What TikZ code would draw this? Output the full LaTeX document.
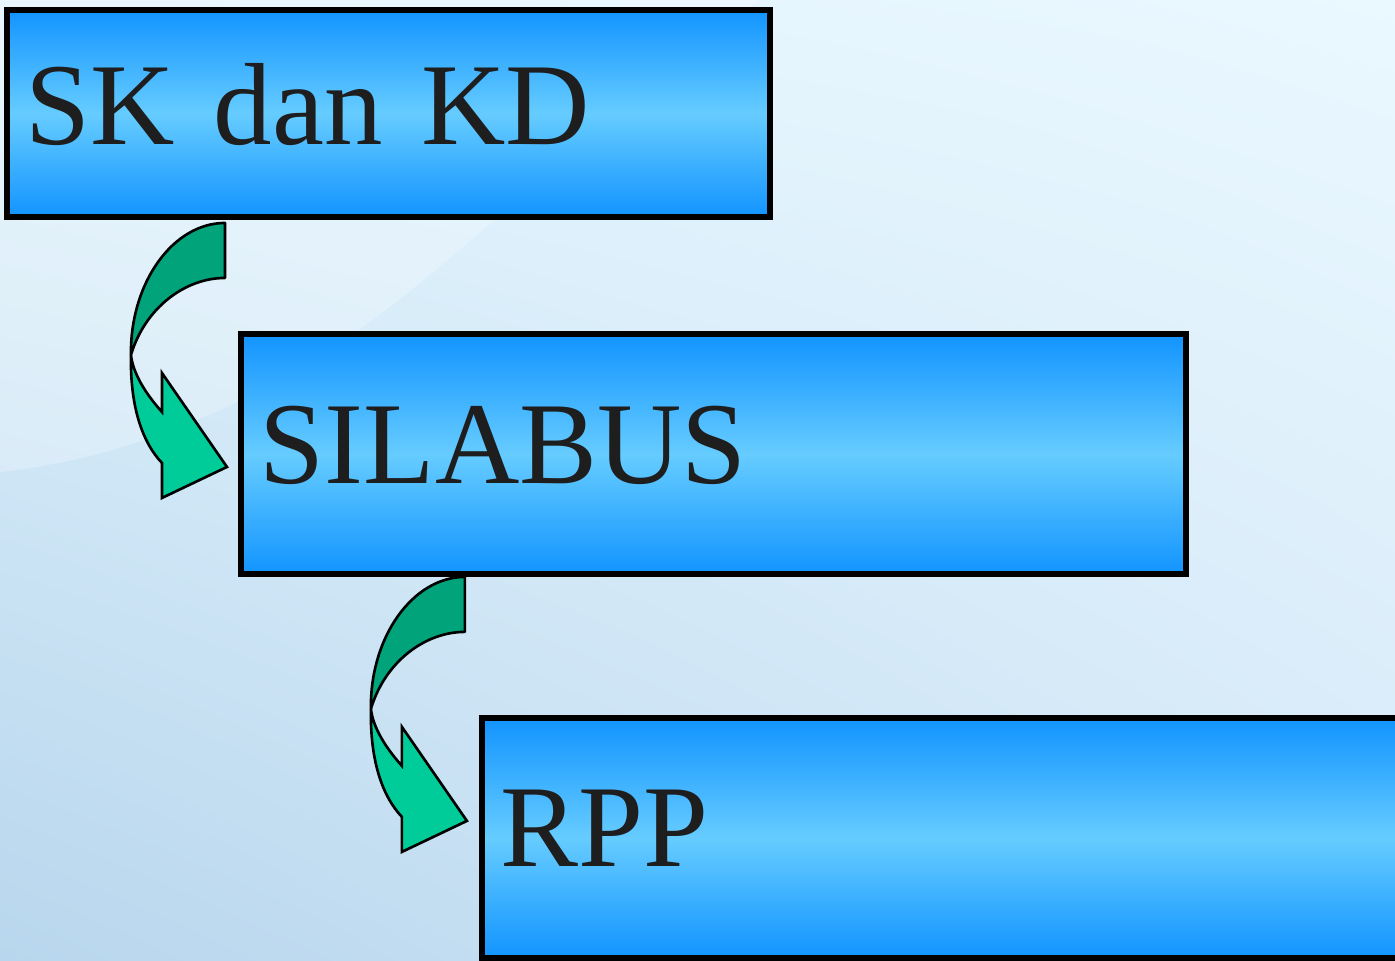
\documentclass[tikz,border=0pt]{standalone}
\usepackage{fontspec}
\setmainfont[WordSpace=0.76]{Liberation Serif}
\usepackage{tikz}
\usepackage{xcolor}
\usetikzlibrary{positioning}
\usetikzlibrary{shadings}
\definecolor{boxdark}{RGB}{18,148,255}
\definecolor{boxlight}{RGB}{102,204,255}
\definecolor{arrowdark}{RGB}{0,163,122}
\definecolor{arrowlight}{RGB}{0,204,153}
\definecolor{textgray}{RGB}{30,30,30}
\definecolor{bgul}{RGB}{226,244,253}
\definecolor{bgur}{RGB}{234,248,255}
\definecolor{bgll}{RGB}{184,214,237}
\definecolor{bglr}{RGB}{214,233,248}
\tikzstyle{level} = [rectangle, draw=black, line width=3.4pt, outer sep=0pt, top color=boxdark, bottom color=boxdark, middle color=boxlight, text=textgray, font=\fontsize{66.5}{80}\selectfont, align=left, inner xsep=0.37cm, text depth=0.4cm, anchor=north west]
\tikzstyle{arrowback} = [draw=black, line width=1.5pt, line join=round, fill=arrowdark]
\tikzstyle{arrowfront} = [draw=black, line width=1.5pt, line join=miter, fill=arrowlight]

% curved arrow, top right corner at #1
\newcommand{\bendarrow}[1]{%
    \begin{scope}[shift={(#1)}]
        \filldraw[arrowback] (0,0) .. controls (-52,0) and (-95,60) .. (-94,132) .. controls (-80,85) and (-40,55) .. (0,55) -- cycle;
        \filldraw[arrowfront] (-94,132) .. controls (-95,185) and (-82,220) .. (-63,240) -- (-63,275) -- (2,244) -- (-63,150) -- (-63,189) .. controls (-80,170) and (-92,150) .. (-94,132) -- cycle;
    \end{scope}}

\begin{document}
\begin{tikzpicture}[x=0.02cm, y=-0.02cm]
        \clip (0,0) rectangle (1395,960);
        \shade[upper left=bgul, upper right=bgur, lower left=bgll, lower right=bglr] (0,0) rectangle (1395,960);
        \fill[white, opacity=0.25] (0,0) -- (0,472) .. controls (110,460) and (220,420) .. (330,350) .. controls (480,250) and (620,90) .. (760,0) -- cycle;

        \node (skkd) [level, text width=14.52cm, minimum height=4.14cm] at (7,10) {SK dan KD};
        \node (silabus) [level, text width=18.15cm, minimum height=4.8cm] at ([xshift=4.69cm, yshift=-2.35cm]skkd.south west) {SILABUS};
        \node (rpp) [level, text width=19.62cm, minimum height=4.79cm] at ([xshift=4.81cm, yshift=-2.88cm]silabus.south west) {RPP};

        \coordinate (bend1) at ([xshift=4.36cm, yshift=-0.12cm]skkd.south west);
        \coordinate (bend2) at ([xshift=4.47cm, yshift=-0.05cm]silabus.south west);
        \bendarrow{bend1}
        \bendarrow{bend2}
    \end{tikzpicture}
\end{document}
